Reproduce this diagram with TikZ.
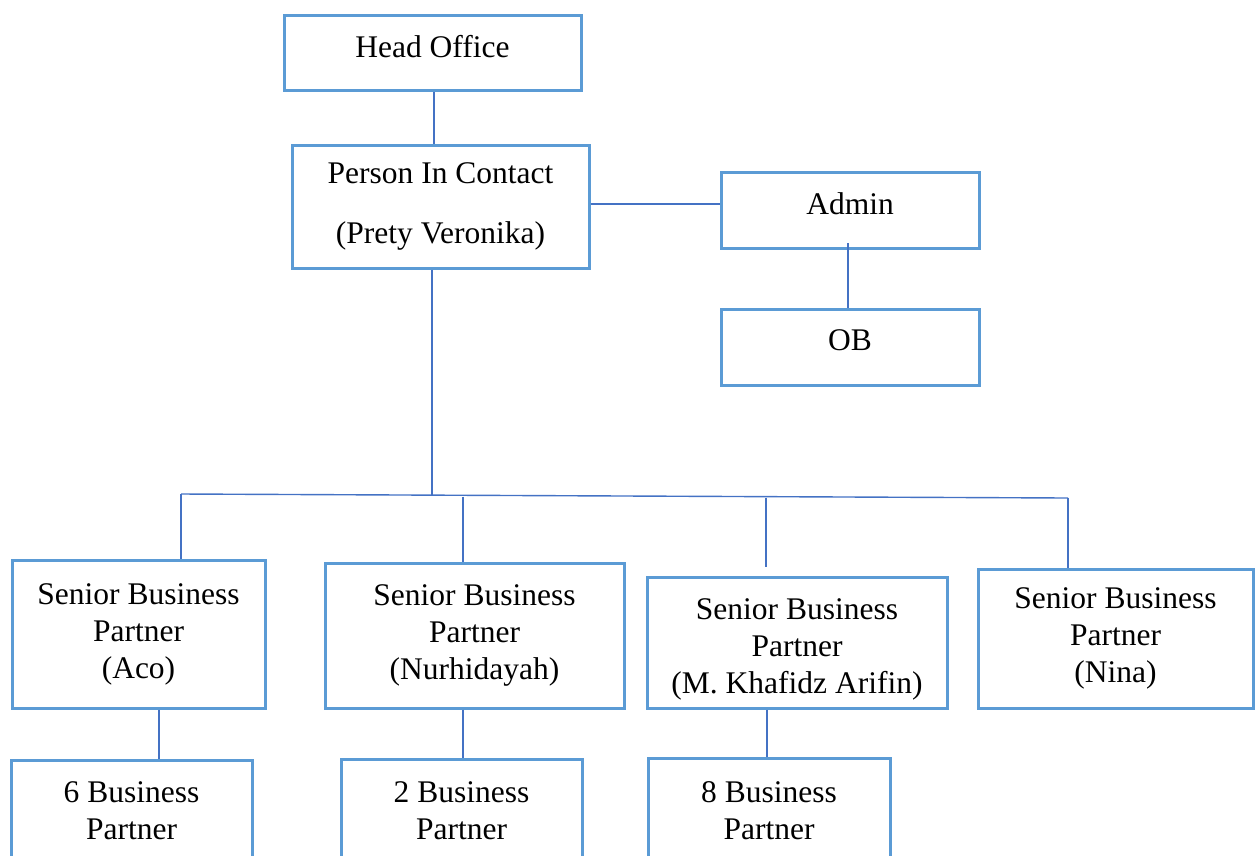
\documentclass[tikz,border=0pt]{standalone}
\usepackage{fontspec}
\setmainfont{Liberation Serif}
\definecolor{boxblue}{RGB}{91,155,213}
\definecolor{lineblue}{RGB}{68,114,196}
\begin{document}
\begin{tikzpicture}[x=1pt,y=-1pt,
  orgbox/.style={draw=boxblue,line width=3pt,fill=white,inner sep=0pt,align=center,
    font=\fontsize{31.5}{37}\selectfont},
  raised/.style={text depth=13pt},
  conn/.style={draw=lineblue,line width=1.4pt}]
\useasboundingbox (0,0) rectangle (1255,855);
% boxes
\node[orgbox,raised,minimum width=297pt,minimum height=75pt] (ho) at (432.5,52.5) {Head Office};
\node[orgbox,minimum width=297pt,minimum height=123pt,font=\fontsize{31.5}{60}\selectfont] (pic) at (440.5,206.5) {Person In Contact\\(Prety Veronika)};
\node[orgbox,raised,minimum width=258pt,minimum height=76pt] (admin) at (850,210) {Admin};
\node[orgbox,raised,minimum width=258pt,minimum height=76pt] (ob) at (850,347) {OB};
\node[orgbox,minimum width=253pt,minimum height=148pt] (aco) at (138.5,634) {Senior Business\\Partner\\(Aco)};
\node[orgbox,minimum width=299pt,minimum height=145pt] (nur) at (474.5,635.5) {Senior Business\\Partner\\(Nurhidayah)};
\node[orgbox,minimum width=300pt,minimum height=131pt] (kha) at (797,642.5) {\rule{0pt}{34pt}Senior Business\\Partner\\(M. Khafidz Arifin)};
\node[orgbox,minimum width=275pt,minimum height=139pt] (nina) at (1115.5,638.5) {Senior Business\\Partner\\(Nina)};
\node[orgbox,minimum width=241pt,minimum height=102pt] (bp6) at (131.5,811) {6 Business\\Partner};
\node[orgbox,minimum width=241pt,minimum height=104pt] (bp2) at (461.5,811) {2 Business\\Partner};
\node[orgbox,minimum width=242pt,minimum height=106pt] (bp8) at (769,811) {8 Business\\Partner};
% bus coordinates
\coordinate (busL) at (181,494);
\coordinate (busR) at (1068,498);
\coordinate (busC) at (432,495);
% connectors
\draw[conn] (434,0 |- ho.south) -- (434,0 |- pic.north);
\draw[conn] ([yshift=2.5pt]pic.east) -- ([yshift=2.5pt]pic.east -| admin.west);
\draw[conn] (848,243) -- (848,0 |- ob.north);
\draw[conn] (busC |- pic.south) -- (busC);
\draw[conn] (busL) -- (busR);
\draw[conn] (busL) -- (busL |- aco.north);
\draw[conn] (463,496.5) -- (463,0 |- nur.north);
\draw[conn] (766,497.5) -- (766,567);
\draw[conn] (busR) -- (busR |- nina.north);
\draw[conn] (159,0 |- aco.south) -- (159,0 |- bp6.north);
\draw[conn] (463,0 |- nur.south) -- (463,0 |- bp2.north);
\draw[conn] (767,0 |- kha.south) -- (767,0 |- bp8.north);
\end{tikzpicture}
\end{document}
